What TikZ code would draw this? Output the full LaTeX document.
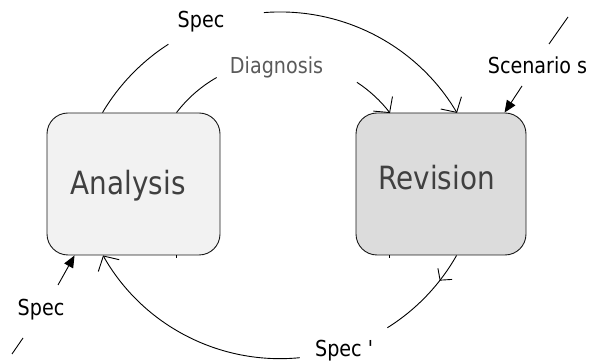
\documentclass[tikz,border=0pt]{standalone}
\usepackage{fontspec}
\setmainfont{DejaVu Sans}[FakeStretch=0.87]
\usetikzlibrary{arrows.meta,decorations.markings}
\definecolor{boxA}{HTML}{F2F2F2}
\definecolor{boxR}{HTML}{DCDCDC}
\definecolor{boxtext}{HTML}{404040}
\definecolor{diagtext}{HTML}{5A5A5A}
\tikzset{
  procbox/.style={draw=black!90, line width=0.9pt, rounded corners=21pt, inner sep=0pt},
  boxlabel/.style={anchor=base, inner sep=0pt, text=boxtext, font=\fontsize{32}{38}\selectfont},
  lbl/.style={anchor=base, inner sep=0pt, font=\fontsize{22}{26}\selectfont},
  conn/.style={line width=0.9pt},
  openarrow/.style={-{Straight Barb[length=11pt,width=24pt]}},
  filledarrow/.style={-{Triangle[length=12pt,width=10pt]}},
}
\begin{document}
\begin{tikzpicture}[x=1pt,y=1pt]
\useasboundingbox (0,0) rectangle (591,361);
% boxes
\node[procbox, fill=boxA, minimum width=173pt, minimum height=142pt] (A) at (133.5,177) {};
\node[procbox, fill=boxR, minimum width=170pt, minimum height=142pt] (R) at (441,177) {};
\node[boxlabel] (At) at (128.3,166) {Analysis};
\node[boxlabel] (Rt) at (436.7,171.7) {Revision};
% labels
\node[lbl] (spectop) at (201,333.7) {Spec};
\node[lbl, text=diagtext] (diag) at (276.5,287) {Diagnosis};
\node[lbl] (scen) at (537.5,287) {Scenario s};
\node[lbl] (specbl) at (41,45) {Spec};
\node[lbl] (specp) at (344.5,4) {Spec \textquotesingle};
% free ends
\coordinate (sg2) at (263.9,348.4);
\coordinate (dg2) at (356.9,278.7);
\coordinate (pg2) at (299.8,3.3);
\coordinate (sc1) at (568,344);
\coordinate (sc2) at (549,317);
\coordinate (sc3) at (522,275);
\coordinate (bl1) at (12,7);
\coordinate (bl2) at (23,23);
\coordinate (bl3) at (58,76);
% Spec (top) arc
\draw[conn] ([xshift=56pt]A.north west) arc[start angle=149.4, end angle=122.7, radius=205.6];
\draw[conn, openarrow] (sg2) arc[start angle=94.5, end angle=30.6, radius=205.6];
% Diagnosis arc
\draw[conn] ([xshift=130pt]A.north west) arc[start angle=142.6, end angle=119.7, radius=134.05];
\draw[conn, openarrow] (dg2) arc[start angle=56.8, end angle=37.4, radius=134.05];
% Spec' arc
\draw[conn, postaction={decorate}, decoration={markings,
   mark=at position 0.3 with {\arrow[line width=0.9pt]{Straight Barb[length=8pt,width=18pt]}}}]
   ([xshift=101pt]R.south west) arc[start angle=-29.5, end angle=-58, radius=203.3];
\draw[conn, openarrow] (pg2) arc[start angle=-84.4, end angle=-150.5, radius=203.3];
% Scenario s
\draw[conn] (sc1) -- (sc2);
\draw[conn, filledarrow] (sc3) -- ([xshift=149pt]R.north west);
% Spec bottom-left
\draw[conn] (bl1) -- (bl2);
\draw[conn, filledarrow] (bl3) -- ([xshift=28pt]A.south west);
% small ticks
\draw[conn] ([xshift=130pt]A.south west) -- ++(0,-3);
\draw[conn] ([xshift=34pt]R.south west) -- ++(0,-3);
\end{tikzpicture}
\end{document}
